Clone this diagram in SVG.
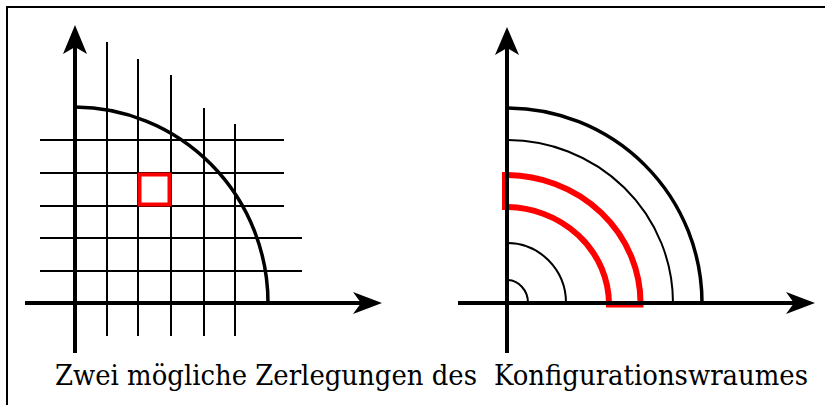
<svg xmlns="http://www.w3.org/2000/svg" width="825" height="405" viewBox="0 0 825 405">
<style>
.ax{stroke:#000;stroke-width:4;fill:none}
.grid{stroke:#000;stroke-width:2;fill:none}
.thick{stroke:#000;stroke-width:3.5;fill:none}
.thin{stroke:#000;stroke-width:2;fill:none}
.red{stroke:#ff0000;stroke-width:4;fill:none}
.redw{stroke:#ff0000;stroke-width:6;fill:none;stroke-linejoin:miter}
.head{fill:#000;stroke:none}
.lbl{font-family:"DejaVu Serif","Liberation Serif",serif;font-size:28px;fill:#000}
</style>
<rect width="825" height="405" fill="#fff"/>
<path d="M7,405 V7 H825" stroke="#000" stroke-width="2" fill="none"/>
<g id="left-diagram">
  <g id="left-grid">
    <line class="grid" x1="107" y1="42" x2="107" y2="336"/>
    <line class="grid" x1="138" y1="59" x2="138" y2="336"/>
    <line class="grid" x1="171" y1="75" x2="171" y2="336"/>
    <line class="grid" x1="204" y1="108" x2="204" y2="336"/>
    <line class="grid" x1="235" y1="124" x2="235" y2="336"/>
    <line class="grid" x1="40" y1="140" x2="284" y2="140"/>
    <line class="grid" x1="40" y1="173" x2="284" y2="173"/>
    <line class="grid" x1="40" y1="206" x2="284" y2="206"/>
    <line class="grid" x1="40" y1="238" x2="302" y2="238"/>
    <line class="grid" x1="40" y1="271" x2="302" y2="271"/>
  </g>
  <path id="left-arc" class="thick" d="M75,107 A194,196 0 0 1 268,303"/>
  <rect id="left-cell" class="red" x="139.5" y="174.5" width="30" height="30"/>
  <g id="left-axes">
    <line class="ax" x1="75" y1="353" x2="75" y2="45"/>
    <path class="head" d="M75,25 L87,54 L75,47 L63,54 Z"/>
    <line class="ax" x1="25" y1="303" x2="365" y2="303"/>
    <path class="head" d="M382,303 L353,314 L361,303 L353,292 Z"/>
  </g>
</g>
<g id="right-diagram">
  <g id="right-arcs">
    <path class="thick" d="M507,108 A195,195 0 0 1 702,303"/>
    <path class="thin" d="M507,140 A166,163 0 0 1 673,303"/>
    <path class="thin" d="M507,243 A59,60 0 0 1 566,303"/>
    <path class="thin" d="M507,280 A21,23 0 0 1 528,303"/>
  </g>
  <path id="right-cell" class="redw" d="M505,175 A135,128 0 0 1 640.5,304.5 L609,304.5 A103.5,97.5 0 0 0 505,207 Z"/>
  <g id="right-axes">
    <line class="ax" x1="507" y1="353" x2="507" y2="47"/>
    <path class="head" d="M507,27 L519,55 L507,48 L495,55 Z"/>
    <line class="ax" x1="458" y1="303" x2="798" y2="303"/>
    <path class="head" d="M815,303 L786,314 L794,303 L786,292 Z"/>
  </g>
</g>
<g id="caption" transform="scale(0.88,1)">
  <text class="lbl" x="62.5" y="385" textLength="479.5" lengthAdjust="spacingAndGlyphs">Zwei mögliche Zerlegungen des</text>
  <text class="lbl" x="561.4" y="385" textLength="356.8" lengthAdjust="spacingAndGlyphs">Konfigurationswraumes</text>
</g>
</svg>
